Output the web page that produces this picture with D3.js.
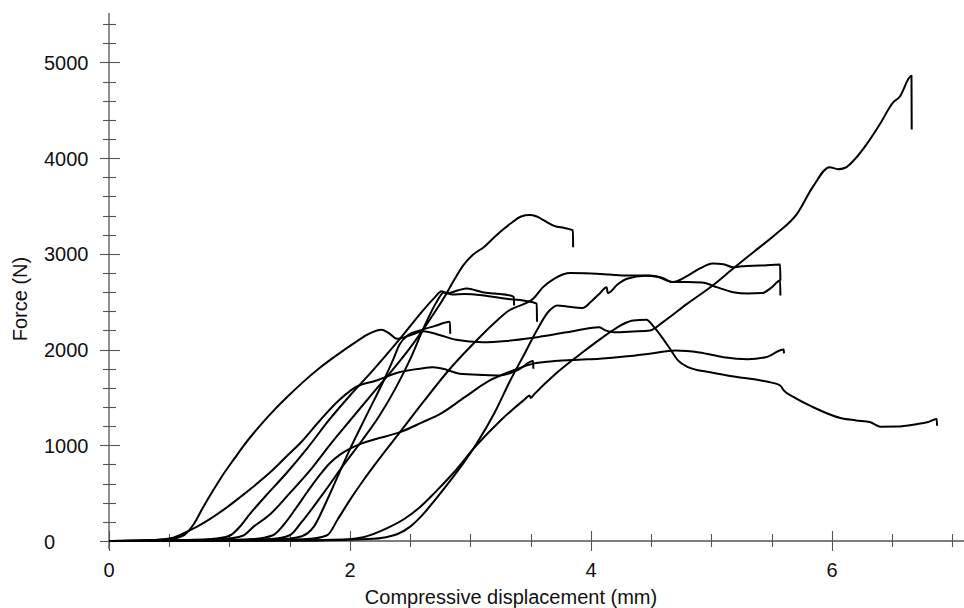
<!DOCTYPE html>
<html><head><meta charset="utf-8">
<script src="https://cdn.jsdelivr.net/npm/d3@7"></script>
<style>html,body{margin:0;padding:0;background:#fff;}svg{display:block;}</style>
</head><body>
<svg id="chart" width="964" height="608"></svg>
<script>
// Data: [displacement (mm), force (N)]
const specimen1 = [[0,0],[0.3,5],[0.5,20],[0.62,60],[0.7,170],[0.78,350],[0.87,540],[0.95,700],[1.04,860],[1.12,1000],[1.25,1200],[1.38,1380],[1.5,1530],[1.61,1660],[1.75,1810],[1.9,1950],[2.05,2080],[2.15,2160],[2.26,2207],[2.32,2175],[2.39,2113],[2.5,2150],[2.61,2192],[2.75,2150],[2.88,2102],[3.1,2077],[3.3,2090],[3.52,2123],[3.8,2180],[4.07,2234],[4.12,2200],[4.19,2182],[4.35,2190],[4.49,2200],[4.6,2290],[4.8,2480],[5.01,2670],[5.18,2847],[5.35,3020],[5.54,3213],[5.71,3418],[5.84,3697],[5.98,3906],[6.05,3885],[6.11,3900],[6.18,3976],[6.29,4150],[6.4,4360],[6.51,4585],[6.56,4638],[6.66,4860],[6.66,4300]];
const specimen2 = [[0,0],[0.3,5],[0.5,25],[0.6,70],[0.67,110],[0.8,200],[0.98,353],[1.1,470],[1.2,570],[1.34,720],[1.47,880],[1.6,1040],[1.75,1259],[1.9,1460],[1.97,1537],[2.05,1610],[2.22,1677],[2.4,1760],[2.58,1800],[2.69,1816],[2.8,1790],[2.91,1748],[3.1,1735],[3.245,1730],[3.4,1790],[3.52,1880],[3.52,1800]];
const specimen3 = [[0,0],[0.5,5],[0.85,20],[1.0,55],[1.1,170],[1.17,283],[1.3,470],[1.47,705],[1.64,960],[1.83,1270],[2.0,1520],[2.19,1782],[2.4,2090],[2.6,2400],[2.7,2540],[2.76,2610],[2.8,2585],[2.9,2620],[2.97,2638],[3.1,2600],[3.2,2585],[3.33,2565],[3.36,2548],[3.36,2461]];
const specimen4 = [[0,0],[0.6,5],[0.95,20],[1.11,55],[1.2,150],[1.34,283],[1.5,500],[1.67,740],[1.83,1000],[2.0,1259],[2.2,1560],[2.35,1782],[2.5,2020],[2.65,2290],[2.8,2583],[2.87,2740],[2.94,2880],[3.02,2990],[3.11,3070],[3.22,3200],[3.33,3314],[3.42,3390],[3.49,3405],[3.55,3390],[3.61,3349],[3.7,3290],[3.78,3270],[3.85,3245],[3.85,3070]];
const specimen5 = [[0,0],[0.9,5],[1.35,20],[1.5,60],[1.6,200],[1.78,500],[1.95,800],[2.1,1050],[2.24,1300],[2.38,1600],[2.5,1900],[2.62,2250],[2.72,2500],[2.78,2600],[2.85,2575],[2.95,2580],[3.11,2565],[3.3,2530],[3.45,2510],[3.55,2480],[3.55,2290]];
const specimen6 = [[0,0],[1.0,5],[1.45,20],[1.6,50],[1.7,150],[1.8,400],[1.9,680],[2.0,960],[2.14,1320],[2.28,1677],[2.36,1900],[2.41,2050],[2.48,2150],[2.58,2200],[2.7,2245],[2.83,2290],[2.83,2165]];
const specimen7 = [[0,0],[0.8,5],[1.2,20],[1.36,60],[1.45,170],[1.55,340],[1.65,520],[1.75,690],[1.83,810],[1.92,905],[2.0,965],[2.1,1020],[2.2,1060],[2.415,1137],[2.6,1240],[2.75,1328],[2.95,1500],[3.16,1677],[3.35,1780],[3.52,1853],[3.7,1880],[3.9,1895],[4.07,1905],[4.3,1930],[4.5,1960],[4.7,1990],[4.9,1970],[5.1,1920],[5.3,1900],[5.45,1920],[5.6,2000],[5.6,1960]];
const specimen8 = [[0,0],[1.2,5],[1.65,20],[1.81,60],[1.9,230],[2.0,430],[2.11,632],[2.25,870],[2.415,1137],[2.6,1440],[2.83,1800],[3.05,2095],[3.2,2280],[3.32,2408],[3.45,2480],[3.52,2530],[3.6,2650],[3.7,2745],[3.83,2800],[4.0,2795],[4.15,2785],[4.3,2774],[4.49,2774],[4.6,2745],[4.68,2705],[4.8,2770],[4.9,2845],[5.01,2899],[5.1,2892],[5.18,2860],[5.25,2870],[5.4,2878],[5.57,2888],[5.57,2722]];
const specimen9 = [[0,0],[1.7,5],[2.15,20],[2.3,40],[2.39,70],[2.5,150],[2.6,270],[2.7,420],[2.85,660],[2.95,830],[3.05,1016],[3.2,1340],[3.33,1677],[3.45,1960],[3.55,2200],[3.65,2400],[3.72,2461],[3.8,2450],[3.93,2435],[4.0,2500],[4.07,2583],[4.13,2652],[4.14,2590],[4.22,2680],[4.3,2740],[4.45,2772],[4.55,2760],[4.68,2705],[4.8,2705],[4.92,2700],[5.05,2650],[5.18,2600],[5.3,2585],[5.42,2590],[5.5,2650],[5.57,2722],[5.57,2565]];
const specimen10 = [[0,0],[1.5,5],[1.95,15],[2.11,40],[2.3,130],[2.45,230],[2.58,353],[2.7,500],[2.85,700],[3.05,1000],[3.25,1260],[3.45,1480],[3.49,1520],[3.5,1495],[3.53,1535],[3.7,1740],[3.95,1990],[4.1,2130],[4.18,2200],[4.28,2275],[4.35,2304],[4.46,2312],[4.52,2240],[4.6,2110],[4.66,2000],[4.72,1890],[4.8,1820],[5.0,1760],[5.2,1715],[5.4,1680],[5.5,1655],[5.57,1625],[5.6,1573],[5.68,1505],[5.84,1400],[6.07,1285],[6.2,1260],[6.32,1241],[6.4,1195],[6.54,1196],[6.7,1220],[6.79,1240],[6.87,1275],[6.87,1205]];
const series = [specimen1,specimen2,specimen3,specimen4,specimen5,specimen6,specimen7,specimen8,specimen9,specimen10];

const xTickLabels = [0,2,4,6];
const yTickLabels = [0,1000,2000,3000,4000,5000];
const xLabel = "Compressive displacement (mm)";
const yLabel = "Force (N)";

const svg = d3.select("#chart");
const x = d3.scaleLinear().domain([0, 7.1]).range([109, 964.5]);
const y = d3.scaleLinear().domain([0, 5500]).range([541, 14.6]);
const axisColor = "#555";
const font = "'Liberation Sans', Arial, Helvetica, sans-serif";

// axes lines
svg.append("line").attr("x1", x(0)).attr("x2", 964).attr("y1", y(0)).attr("y2", y(0))
  .attr("stroke", axisColor).attr("stroke-width", 1.3);
svg.append("line").attr("x1", x(0)).attr("x2", x(0)).attr("y1", y(0)+8).attr("y2", y(5500)-1.5)
  .attr("stroke", axisColor).attr("stroke-width", 1.3);

// y ticks (minor every 200, major every 1000)
const yMinor = d3.range(0, 5500, 200);
svg.append("g").selectAll("line").data(yMinor).join("line")
  .attr("x1", d => d % 1000 === 0 ? x(0) - 9 : x(0) - 6)
  .attr("x2", d => d % 1000 === 0 ? x(0) + 11 : x(0) + 7)
  .attr("y1", d => Math.round(y(d)) + 0.5).attr("y2", d => Math.round(y(d)) + 0.5)
  .attr("stroke", axisColor).attr("stroke-width", 1.1);

// x ticks (every 0.5)
const xMinor = d3.range(0, 7.01, 0.5);
svg.append("g").selectAll("line").data(xMinor).join("line")
  .attr("x1", d => Math.round(x(d)) + 0.5).attr("x2", d => Math.round(x(d)) + 0.5)
  .attr("y1", d => d % 2 === 0 ? y(0) - 10 : y(0) - 7)
  .attr("y2", d => d % 2 === 0 ? y(0) + 10 : y(0) + 6)
  .attr("stroke", axisColor).attr("stroke-width", 1.1);

// tick labels
svg.append("g").selectAll("text").data(xTickLabels).join("text")
  .attr("x", d => x(d)).attr("y", 577).attr("text-anchor", "middle")
  .attr("font-family", font).attr("font-size", 20).attr("fill", "#111").text(d => d);
svg.append("g").selectAll("text").data(yTickLabels).join("text")
  .attr("x", 44).attr("y", d => y(d) + 7.5).attr("text-anchor", "start")
  .attr("font-family", font).attr("font-size", 20).attr("fill", "#111").text(d => d);

// axis titles
svg.append("text").attr("x", 511).attr("y", 604).attr("text-anchor", "middle")
  .attr("font-family", font).attr("font-size", 20).attr("fill", "#111").text(xLabel);
svg.append("text").attr("transform", "translate(27,299) rotate(-90)").attr("text-anchor", "middle")
  .attr("font-family", font).attr("font-size", 20).attr("fill", "#111").text(yLabel);

// curves: smooth with monotone interpolation; vertical end drops get a tiny x offset
function prep(s) {
  const out = [];
  s.forEach(p => {
    let px = p[0];
    if (out.length && px <= out[out.length - 1][0]) px = out[out.length - 1][0] + 0.002;
    out.push([px, p[1]]);
  });
  return out;
}
const line = d3.line().x(d => x(d[0])).y(d => y(d[1])).curve(d3.curveMonotoneX);
svg.append("g").selectAll("path").data(series.map(prep)).join("path")
  .attr("d", line).attr("fill", "none").attr("stroke", "#000")
  .attr("stroke-width", 2).attr("stroke-linejoin", "round");
</script>
</body></html>
